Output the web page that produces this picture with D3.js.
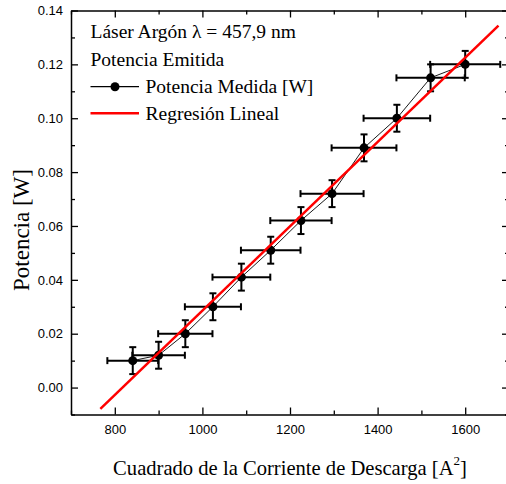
<!DOCTYPE html>
<html>
<head>
<meta charset="utf-8">
<script src="https://cdn.jsdelivr.net/npm/d3@7"></script>
<style>
  html, body { margin: 0; padding: 0; background: #fff; }
  svg { display: block; }
</style>
</head>
<body>
<svg id="chart" width="506" height="484"></svg>
<script>
// ---- data ----
const currentSq = [841, 900, 961, 1024, 1089, 1156, 1225, 1296, 1369, 1444, 1521, 1600];
const power     = [0.010, 0.012, 0.020, 0.030, 0.041, 0.051, 0.062, 0.072, 0.089, 0.100, 0.115, 0.120];
const xErr      = [58, 60, 62, 64, 66, 68, 70, 72, 74, 76, 78, 80];
const yErr      = [0.005, 0.005, 0.005, 0.005, 0.005, 0.005, 0.005, 0.005, 0.005, 0.005, 0.005, 0.005];
const fitX      = [767, 1676];
const fitY      = [-0.0079, 0.1344];
const xTicks    = [800, 1000, 1200, 1400, 1600];
const xMinor    = [700, 900, 1100, 1300, 1500, 1700];
const yTicks    = [0.00, 0.02, 0.04, 0.06, 0.08, 0.10, 0.12, 0.14];
const yMinor    = [-0.01, 0.01, 0.03, 0.05, 0.07, 0.09, 0.11, 0.13];
const legendTitle = ["Láser Argón λ = 457,9 nm", "Potencia Emitida"];
const seriesNames = ["Potencia Medida [W]", "Regresión Lineal"];

const svg = d3.select("#chart");
const L = 71, R = 509, T = 10.5, B = 414.5;
const x = d3.scaleLinear().domain([700, 1700]).range([L, R]);
const y = d3.scaleLinear().domain([-0.01, 0.14]).range([B, T]);

const tickFont = "'Liberation Sans', Arial, sans-serif";
const serif = "'Liberation Serif', 'Times New Roman', serif";

function styleAxis(g) {
  g.selectAll("path").attr("stroke", "#000").attr("stroke-width", 1.5);
  g.selectAll("line").attr("stroke", "#000").attr("stroke-width", 1.3);
  g.selectAll("text").attr("font-family", tickFont).attr("font-size", 13).attr("fill", "#000");
}
// bottom
const gB = svg.append("g").attr("transform", `translate(0,${B})`)
  .call(d3.axisBottom(x).tickValues(xTicks).tickFormat(d3.format("d")).tickSizeInner(-7).tickSizeOuter(0));
styleAxis(gB);
gB.selectAll("text").attr("dy", "0.71em").attr("y", 10);
svg.append("g").attr("transform", `translate(0,${B})`)
  .call(d3.axisBottom(x).tickValues(xMinor).tickFormat("").tickSizeInner(-4).tickSizeOuter(0))
  .call(g => { g.select("path").remove(); styleAxis(g); });
// top
const gT = svg.append("g").attr("transform", `translate(0,${T})`)
  .call(d3.axisTop(x).tickValues(xTicks).tickFormat("").tickSizeInner(-7).tickSizeOuter(0));
styleAxis(gT);
svg.append("g").attr("transform", `translate(0,${T})`)
  .call(d3.axisTop(x).tickValues(xMinor).tickFormat("").tickSizeInner(-4).tickSizeOuter(0))
  .call(g => { g.select("path").remove(); styleAxis(g); });
// left
const gL = svg.append("g").attr("transform", `translate(${L},0)`)
  .call(d3.axisLeft(y).tickValues(yTicks).tickFormat(d3.format(".2f")).tickSizeInner(-7).tickSizeOuter(0));
styleAxis(gL);
gL.selectAll("text").attr("x", -8);
svg.append("g").attr("transform", `translate(${L},0)`)
  .call(d3.axisLeft(y).tickValues(yMinor).tickFormat("").tickSizeInner(-4).tickSizeOuter(0))
  .call(g => { g.select("path").remove(); styleAxis(g); });
// right
const gR = svg.append("g").attr("transform", `translate(${R},0)`)
  .call(d3.axisRight(y).tickValues(yTicks).tickFormat("").tickSizeInner(-7).tickSizeOuter(0));
styleAxis(gR);
svg.append("g").attr("transform", `translate(${R},0)`)
  .call(d3.axisRight(y).tickValues(yMinor).tickFormat("").tickSizeInner(-4).tickSizeOuter(0))
  .call(g => { g.select("path").remove(); styleAxis(g); });

const pts = currentSq.map((v, i) => ({x: v, y: power[i], ex: xErr[i], ey: yErr[i]}));

// connecting line
svg.append("path").datum(pts)
  .attr("d", d3.line().x(d => x(d.x)).y(d => y(d.y)))
  .attr("fill", "none").attr("stroke", "#000").attr("stroke-width", 0.9);

// error bars
const eb = svg.append("g").attr("stroke", "#000").attr("stroke-width", 2).attr("fill", "none");
const cap = 3.5;
pts.forEach(d => {
  const cx = x(d.x), cy = y(d.y);
  const x0 = x(d.x - d.ex), x1 = x(d.x + d.ex);
  const y0 = y(d.y - d.ey), y1 = y(d.y + d.ey);
  eb.append("line").attr("x1", x0).attr("x2", x1).attr("y1", cy).attr("y2", cy);
  eb.append("line").attr("x1", x0).attr("x2", x0).attr("y1", cy - cap).attr("y2", cy + cap);
  eb.append("line").attr("x1", x1).attr("x2", x1).attr("y1", cy - cap).attr("y2", cy + cap);
  eb.append("line").attr("x1", cx).attr("x2", cx).attr("y1", y0).attr("y2", y1);
  eb.append("line").attr("x1", cx - cap).attr("x2", cx + cap).attr("y1", y0).attr("y2", y0);
  eb.append("line").attr("x1", cx - cap).attr("x2", cx + cap).attr("y1", y1).attr("y2", y1);
});

// points
svg.append("g").selectAll("circle").data(pts).join("circle")
  .attr("cx", d => x(d.x)).attr("cy", d => y(d.y)).attr("r", 4.5).attr("fill", "#000");

// regression line
svg.append("path").datum(fitX.map((v, i) => [v, fitY[i]]))
  .attr("d", d3.line().x(d => x(d[0])).y(d => y(d[1])))
  .attr("fill", "none").attr("stroke", "#ff0000").attr("stroke-width", 2.5);

// legend
const lg = svg.append("g").attr("font-family", serif).attr("font-size", 19.5).attr("fill", "#000");
lg.append("text").attr("x", 90.5).attr("y", 38).text(legendTitle[0]);
lg.append("text").attr("x", 90.5).attr("y", 66).text(legendTitle[1]);
lg.append("line").attr("x1", 90.5).attr("x2", 139).attr("y1", 86.7).attr("y2", 86.7).attr("stroke", "#000").attr("stroke-width", 1.2);
lg.append("circle").attr("cx", 115).attr("cy", 86.7).attr("r", 4.5).attr("fill", "#000");
lg.append("text").attr("x", 145.5).attr("y", 93.3).text(seriesNames[0]);
lg.append("line").attr("x1", 90.5).attr("x2", 139).attr("y1", 113.3).attr("y2", 113.3).attr("stroke", "#ff0000").attr("stroke-width", 2.5);
lg.append("text").attr("x", 145.5).attr("y", 120).text(seriesNames[1]);

// axis titles
const xt = svg.append("text").attr("x", 290).attr("y", 475).attr("text-anchor", "middle")
  .attr("font-family", serif).attr("font-size", 20.6).attr("fill", "#000");
xt.append("tspan").text("Cuadrado de la Corriente de Descarga [A");
xt.append("tspan").attr("font-size", 13).attr("dy", -10).text("2");
xt.append("tspan").attr("dy", 10).text("]");

svg.append("text").attr("transform", "translate(29,230) rotate(-90)").attr("text-anchor", "middle")
  .attr("font-family", serif).attr("font-size", 23).attr("fill", "#000").text("Potencia [W]");
</script>
</body>
</html>
